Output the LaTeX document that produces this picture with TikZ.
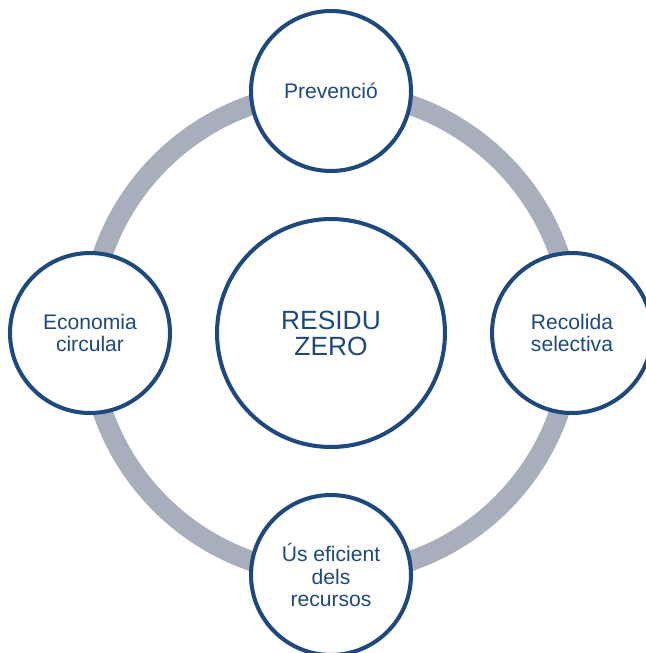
\documentclass[tikz,border=0pt]{standalone}
\usepackage{fontspec}
\setmainfont{Liberation Sans}
\usetikzlibrary{positioning}
\definecolor{stageblue}{RGB}{31,73,125}
\definecolor{ringgray}{RGB}{169,174,189}
\tikzset{
	stage/.style={draw=stageblue,fill=white,circle,line width=2.3pt,inner sep=0pt,minimum size=3.2cm,align=center,text=stageblue,font=\fontsize{12}{12.9}\selectfont},
	core/.style={stage,minimum size=4.56cm,font=\fontsize{15}{14.8}\selectfont},
	ring/.style={draw=ringgray,line width=11.4pt}
}
\begin{document}
\begin{tikzpicture}[x=0.02cm,y=-0.02cm]
	\clip (0,0) rectangle (646,653);
	\useasboundingbox (0,0) rectangle (646,653);

	% central node and the ring behind the stages
	\node[core] (hub) at (331,333) {RESIDU\\ZERO};
	\draw[ring] (hub.center) circle[radius=4.83cm];

	% stages on the ring
	\node[stage] (prev) at (331,91) {Prevenció};
	\node[stage] (recol) at (572,333) {Recolida\\selectiva};
	\node[stage] (us) at (331,575) {Ús eficient\\dels\\recursos};
	\node[stage] (econ) at (90,333) {Economia\\circular};
\end{tikzpicture}
\end{document}
